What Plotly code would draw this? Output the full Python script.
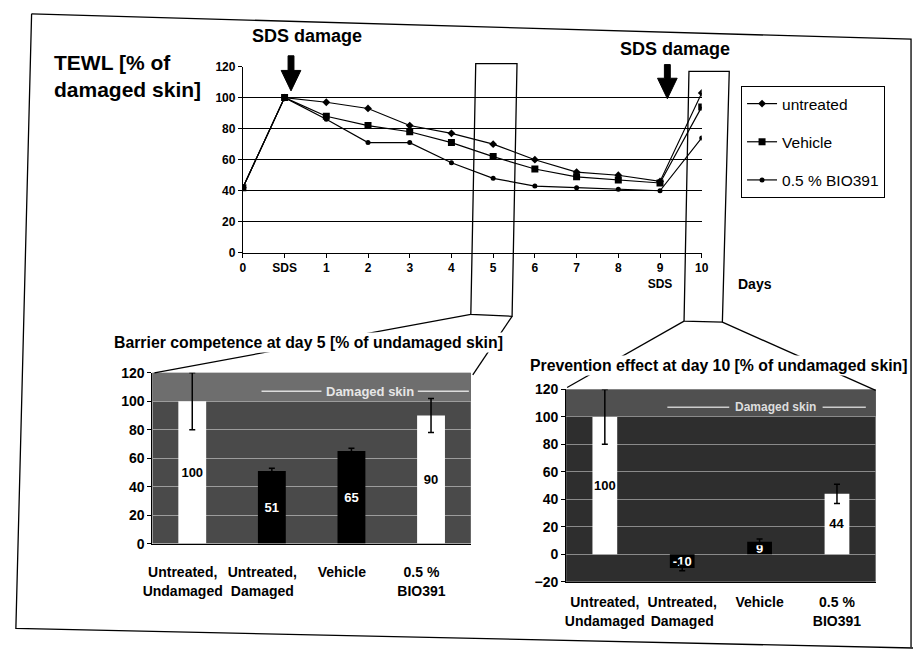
import plotly.graph_objects as go

W, H = 920, 655

# ---------------- data ----------------
day_labels = ["0", "SDS", "1", "2", "3", "4", "5", "6", "7", "8", "9<br>SDS", "10"]
untreated = [42, 100, 97, 93, 82, 77, 70, 60, 52, 50, 46, 103]
vehicle = [42, 100, 88, 82, 78, 71, 62, 54, 49, 47, 45, 94]
bio391 = [42, 100, 86, 71, 71, 58, 48, 43, 42, 41, 40, 74]

bar_categories = ["Untreated,<br>Undamaged", "Untreated,<br>Damaged", "Vehicle", "0.5 %<br>BIO391"]
day5_values = [100, 51, 65, 90]
day5_errors = [20, 2, 2, 12]
day10_values = [100, -10, 9, 44]
day10_errors = [20, 2, 2, 7]

FONT = "Arial, Liberation Sans, sans-serif"


def px(x):
    return x / W


def py(y):
    return 1 - y / H


fig = go.Figure()

xs = list(range(len(day_labels)))
series = [("untreated", untreated, "diamond", 6),
          ("Vehicle", vehicle, "square", 7),
          ("0.5 % BIO391", bio391, "circle", 5)]
for i, (name, vals, sym, size) in enumerate(series):
    fig.add_trace(go.Scatter(
        x=xs, y=vals, name=name, mode="lines+markers",
        line=dict(color="black", width=1.2),
        marker=dict(symbol=sym, size=size, color="black"),
        legendgroup=f"g{i}", xaxis="x", yaxis="y"))

bar_x = list(range(len(bar_categories)))
fig.add_trace(go.Bar(
    x=bar_x, y=day5_values, width=0.35,
    marker=dict(color=["white", "black", "black", "white"], line=dict(width=0)),
    error_y=dict(type="data", array=day5_errors, color="black", thickness=1.5, width=3),
    text=[str(v) for v in day5_values], textposition="inside", insidetextanchor="middle",
    constraintext="none", textangle=0,
    textfont=dict(family=FONT, size=13, weight="bold", color=["black", "white", "white", "black"]),
    showlegend=False, xaxis="x2", yaxis="y2"))

fig.add_trace(go.Bar(
    x=bar_x, y=day10_values, width=0.32,
    marker=dict(color=["white", "black", "black", "white"], line=dict(width=0)),
    error_y=dict(type="data", array=day10_errors, color="black", thickness=1.5, width=3),
    text=[str(v) for v in day10_values], textposition="inside", insidetextanchor="middle",
    constraintext="none", textangle=0,
    textfont=dict(family=FONT, size=13, weight="bold", color=["black", "white", "white", "black"]),
    showlegend=False, xaxis="x3", yaxis="y3"))

bold12 = dict(family=FONT, size=12, color="black", weight="bold")
bold14 = dict(family=FONT, size=14, color="black", weight="bold")

fig.update_layout(
    width=W, height=H, margin=dict(l=0, r=0, t=0, b=0),
    paper_bgcolor="white", plot_bgcolor="white",
    font=dict(family=FONT, color="black"),
    showlegend=True,
    legend=dict(x=px(745), y=py(80), xanchor="left", yanchor="top",
                bordercolor="black", borderwidth=1, bgcolor="white",
                font=dict(family=FONT, size=15.5, color="black"),
                tracegroupgap=15),
    xaxis=dict(domain=[px(238), px(705)], range=[0, 11], tickmode="array",
               tickvals=xs, ticktext=day_labels, showgrid=False, zeroline=False,
               showline=True, linecolor="black", linewidth=1,
               ticks="outside", ticklen=4, tickcolor="black", tickfont=bold12),
    yaxis=dict(domain=[py(251), py(60)], range=[0, 120], dtick=20,
               showgrid=True, gridcolor="black", gridwidth=1, zeroline=False,
               showline=True, linecolor="black", linewidth=1,
               ticks="outside", ticklen=4, tickcolor="black", tickfont=bold12),
    xaxis2=dict(domain=[px(146), px(470)], range=[-0.5, 3.5], tickmode="array",
                tickvals=[i - 0.12 for i in bar_x], ticktext=bar_categories,
                showgrid=False, zeroline=False,
                showline=True, linecolor="black", ticks="", ticklabelstandoff=16,
                tickfont=bold14, anchor="y2"),
    yaxis2=dict(domain=[py(549), py(374)], range=[0, 120], dtick=20,
                showgrid=True, gridcolor="#9c9c9c", gridwidth=1, zeroline=False,
                showline=True, linecolor="black", ticks="outside", ticklen=4,
                tickcolor="black", tickfont=bold14, anchor="x2"),
    xaxis3=dict(domain=[px(567), px(882)], range=[-0.5, 3.5], tickmode="array",
                tickvals=bar_x, ticktext=bar_categories, showgrid=False, zeroline=False,
                showline=True, linecolor="black", ticks="", ticklabelstandoff=8,
                tickfont=bold14, anchor="y3"),
    yaxis3=dict(domain=[py(588), py(391)], range=[-20, 120], dtick=20,
                showgrid=True, gridcolor="#8a8a8a", gridwidth=1, zeroline=False,
                showline=True, linecolor="black", ticks="outside", ticklen=4,
                tickcolor="black", tickfont=bold14, anchor="x3"),
)

shapes = []
# dark backgrounds of the bar panels
shapes.append(dict(type="rect", xref="x2 domain", yref="y2 domain", x0=0, x1=1, y0=0, y1=1,
                   fillcolor="#4a4a4a", line=dict(width=0), layer="below"))
shapes.append(dict(type="rect", xref="x2 domain", yref="y2", x0=0, x1=1, y0=100, y1=120,
                   fillcolor="#6e6e6e", line=dict(width=0), layer="below"))
shapes.append(dict(type="rect", xref="x3 domain", yref="y3 domain", x0=0, x1=1, y0=0, y1=1,
                   fillcolor="#2e2e2e", line=dict(width=0), layer="below"))
shapes.append(dict(type="rect", xref="x3 domain", yref="y3", x0=0, x1=1, y0=100, y1=120,
                   fillcolor="#505050", line=dict(width=0), layer="below"))

# "Damaged skin" bracket lines
for x0, x1 in [(257, 318), (416, 468)]:
    shapes.append(dict(type="line", xref="paper", yref="y2", x0=px(x0), x1=px(x1), y0=107, y1=107,
                       line=dict(color="#dddddd", width=1.5)))
for x0, x1 in [(670, 733), (828, 872)]:
    shapes.append(dict(type="line", xref="paper", yref="y3", x0=px(x0), x1=px(x1), y0=107, y1=107,
                       line=dict(color="#cccccc", width=1.5)))


def path(points, close=False):
    s = "M " + " L ".join(f"{px(x):.5f},{py(y):.5f}" for x, y in points)
    return s + (" Z" if close else "")


line_style = dict(color="black", width=1.3)
# outer frame (slightly skewed scan)
shapes.append(dict(type="path", xref="paper", yref="paper",
                   path=path([(23, 6), (918, 32), (918, 655)]), line=line_style))
shapes.append(dict(type="path", xref="paper", yref="paper",
                   path=path([(23, 6), (7, 636), (920, 656)]), line=line_style))
# zoom boxes
shapes.append(dict(type="path", xref="paper", yref="paper",
                   path=path([(475, 57), (517, 57), (512, 316), (470, 314)], close=True),
                   line=line_style))
shapes.append(dict(type="path", xref="paper", yref="paper",
                   path=path([(692, 65), (733, 65), (726, 322), (687, 321)], close=True),
                   line=line_style))
# connecting lines
for a, b in [((470, 314), (148, 374)), ((512, 316), (472, 376)),
             ((687, 321), (568, 389)), ((726, 322), (882, 392))]:
    shapes.append(dict(type="line", xref="paper", yref="paper",
                       x0=px(a[0]), y0=py(a[1]), x1=px(b[0]), y1=py(b[1]), line=line_style))
# SDS damage arrows
for cx, top, hy, tip in [(287, 49, 64, 85), (670, 58, 72, 93)]:
    shapes.append(dict(type="path", xref="paper", yref="paper",
                       path=path([(cx - 3, top), (cx + 3, top), (cx + 3, hy), (cx + 10, hy),
                                  (cx, tip), (cx - 10, hy), (cx - 3, hy)], close=True),
                       fillcolor="black", line=dict(color="black", width=1)))
fig.update_layout(shapes=shapes)

ann = []
ann.append(dict(text="TEWL [% of<br>damaged skin]", x=px(44), y=py(42), xref="paper", yref="paper",
                xanchor="left", yanchor="top", align="left", showarrow=False,
                font=dict(family=FONT, size=21, weight="bold", color="black")))
ann.append(dict(text="SDS damage", x=px(303), y=py(29), xref="paper", yref="paper",
                xanchor="center", yanchor="middle", showarrow=False,
                font=dict(family=FONT, size=18, weight="bold", color="black")))
ann.append(dict(text="SDS damage", x=px(678), y=py(42), xref="paper", yref="paper",
                xanchor="center", yanchor="middle", showarrow=False,
                font=dict(family=FONT, size=18, weight="bold", color="black")))
ann.append(dict(text="Days", x=px(740), y=py(283), xref="paper", yref="paper", xanchor="left",
                yanchor="middle", showarrow=False,
                font=dict(family=FONT, size=14, weight="bold", color="black")))
ann.append(dict(text="Barrier competence at day 5 [% of undamaged skin]", x=px(305), y=py(343),
                xref="paper", yref="paper", xanchor="center", yanchor="middle",
                showarrow=False, bgcolor="white",
                font=dict(family=FONT, size=15.8, weight="bold", color="black")))
ann.append(dict(text="Prevention effect at day 10 [% of undamaged skin]", x=px(722), y=py(366),
                xref="paper", yref="paper", xanchor="center", yanchor="middle",
                showarrow=False, bgcolor="white",
                font=dict(family=FONT, size=15.8, weight="bold", color="black")))
ann.append(dict(text="Damaged skin", x=px(367), y=107, xref="paper", yref="y2",
                xanchor="center", showarrow=False,
                font=dict(family=FONT, size=13, weight="bold", color="#e6e6e6")))
ann.append(dict(text="Damaged skin", x=px(780), y=107, xref="paper", yref="y3",
                xanchor="center", showarrow=False,
                font=dict(family=FONT, size=12, weight="bold", color="#dddddd")))
fig.update_layout(annotations=ann)

fig.write_html("out.html", config={"displayModeBar": False},
               post_script="document.body.style.margin='0px';document.body.style.overflow='hidden';")
